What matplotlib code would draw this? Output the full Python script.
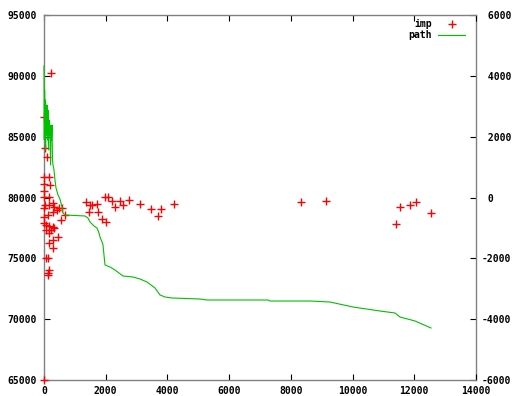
import matplotlib
matplotlib.use("Agg")
import matplotlib.pyplot as plt
from matplotlib.ticker import FixedLocator, FuncFormatter

# imp (left axis)
imp_x = [216, 0, 32, 86, 0, 172, 0, 194, 0, 0, 172, 42, 172, 281, 334, 411, 496, 583, 281,
         119, 10, 680, 545, 65, 172, 281, 65, 227, 334, 151, 443, 281, 151, 302, 65, 140,
         172, 119, 140, 0, 0, 0,
         1361, 1491, 1560, 1707, 1458, 1761, 1869, 2000, 1977, 2085, 2193, 2301, 2463, 2550,
         2765, 3111, 3458, 3782, 3685, 4223,
         8318, 9129, 11407, 11537, 11861, 12055, 12541]
imp_y = [90260, 86600, 84040, 83330, 81660, 81660, 81110, 81030, 80560, 80010, 80010, 79380,
         79380, 79520, 79250, 78970, 79110, 79110, 78830, 78560, 78420, 78560, 78150, 77740,
         77680, 77600, 77330, 77330, 77470, 77060, 76790, 76510, 76240, 75820, 75000, 75000,
         74040, 73770, 73630, 65000, 79110, 77880,
         79660, 79400, 79400, 79440, 78830, 78830, 78230, 78010, 80065, 80065, 79740, 79250,
         79740, 79380, 79795, 79440, 79055, 79055, 78480, 79440,
         79630, 79740, 77822, 79219, 79384, 79630, 78726]

# path (right axis)
path_x = [0, 10, 19, 32, 42, 52, 65, 81, 97, 113, 130, 146, 162, 178, 194, 211, 227, 243,
          259, 275, 292, 324, 356, 389, 454, 518, 583, 616, 680, 1329, 1426, 1491, 1620,
          1718, 1782, 1815, 1880, 1912, 1944, 1977, 2139, 2301, 2560, 2884, 3111, 3338, 3597,
          3759, 3921, 4148, 5055, 5282, 7259, 7324, 8620, 9268, 10014, 10889, 11375, 11537,
          12023, 12542]
path_y = [4323, 1890, 3534, 2219, 3206, 1562, 3041, 2055, 3041, 1890, 2877, 1562, 2548,
          2055, 2384, 1069, 2219, 1890, 2384, 1233, 1069, 904, 575, 312, 82, -49, -312, -510,
          -575, -608, -674, -805, -937, -1003, -1167, -1299, -1463, -1562, -1890, -2219,
          -2285, -2384, -2581, -2614, -2679, -2778, -2975, -3205, -3271, -3304, -3337, -3370,
          -3370, -3403, -3403, -3436, -3600, -3732, -3797, -3929, -4060, -4290]

x_ticks = [0, 2000, 4000, 6000, 8000, 10000, 12000, 14000]
y_ticks = [65000, 70000, 75000, 80000, 85000, 90000, 95000]
y2_ticks = [-6000, -4000, -2000, 0, 2000, 4000, 6000]

FONT = {"family": "DejaVu Sans Mono", "weight": "bold", "size": 7}
plt.rcParams["font.family"] = "DejaVu Sans Mono"
plt.rcParams["font.weight"] = "bold"
plt.rcParams["font.size"] = 7

fig = plt.figure(figsize=(5.12, 3.96), dpi=100)
ax2 = fig.add_axes([44 / 512, 16 / 396, 432 / 512, 365 / 396])
ax = fig.add_axes([44 / 512, 16 / 396, 432 / 512, 365 / 396], sharex=ax2)
ax.patch.set_visible(False)

ax.set_xlim(0, 14000)
ax.set_ylim(65000, 95000)
ax2.set_ylim(-6000, 6000)
ax.set_autoscale_on(False)

ax.plot(imp_x, imp_y, linestyle="none", marker="+", ms=5.5, mew=1.0, color="#ff0000",
        clip_on=False, zorder=3)
# path uses the right-hand (y2) scale
ax.plot(path_x, path_y, color="#00c000", lw=0.8, zorder=3.1, clip_on=False,
        transform=ax2.transData)

ax.xaxis.set_major_locator(FixedLocator(x_ticks))
ax.yaxis.set_major_locator(FixedLocator(y_ticks))
ax2.yaxis.set_major_locator(FixedLocator(y2_ticks))
ax.xaxis.set_major_formatter(FuncFormatter(lambda v, p: f"{int(v)}"))
ax.yaxis.set_major_formatter(FuncFormatter(lambda v, p: f"{int(v)}"))
ax2.yaxis.set_major_formatter(FuncFormatter(lambda v, p: f"{int(v)}" if v < 0 else f" {int(v)}"))
ax2.yaxis.tick_right()

for a in (ax, ax2):
    for s in a.spines.values():
        s.set_color("#808080")
        s.set_linewidth(1.0)
        s.set_zorder(2.5)
ax.spines["right"].set_visible(False)
for k in ("left", "top", "bottom"):
    ax2.spines[k].set_visible(False)

ax.tick_params(axis="x", direction="in", length=4, width=0.8, top=True, bottom=True,
               pad=4, labelsize=7, colors="black")
ax2.tick_params(axis="x", bottom=False, top=False, labelbottom=False, labeltop=False)
ax.tick_params(axis="y", direction="in", length=4, width=0.8, left=True, right=False,
               pad=5, labelsize=7)
ax2.tick_params(axis="y", direction="in", length=4, width=0.8, right=True, left=False,
                labelright=True, labelleft=False, pad=4, labelsize=7)

# legend (gnuplot style: right-aligned labels, samples to the right)
ax.text(0.898, 0.975, "imp", transform=ax.transAxes, ha="right", va="center", **FONT)
ax.text(0.898, 0.945, "path", transform=ax.transAxes, ha="right", va="center", **FONT)
ax.plot([0.944], [0.975], transform=ax.transAxes, marker="+", ms=5.5, mew=1.0,
        color="#ff0000", linestyle="none")
ax.plot([0.913, 0.975], [0.945, 0.945], transform=ax.transAxes, color="#00c000", lw=0.8)

fig.savefig("out.png", dpi=100)
